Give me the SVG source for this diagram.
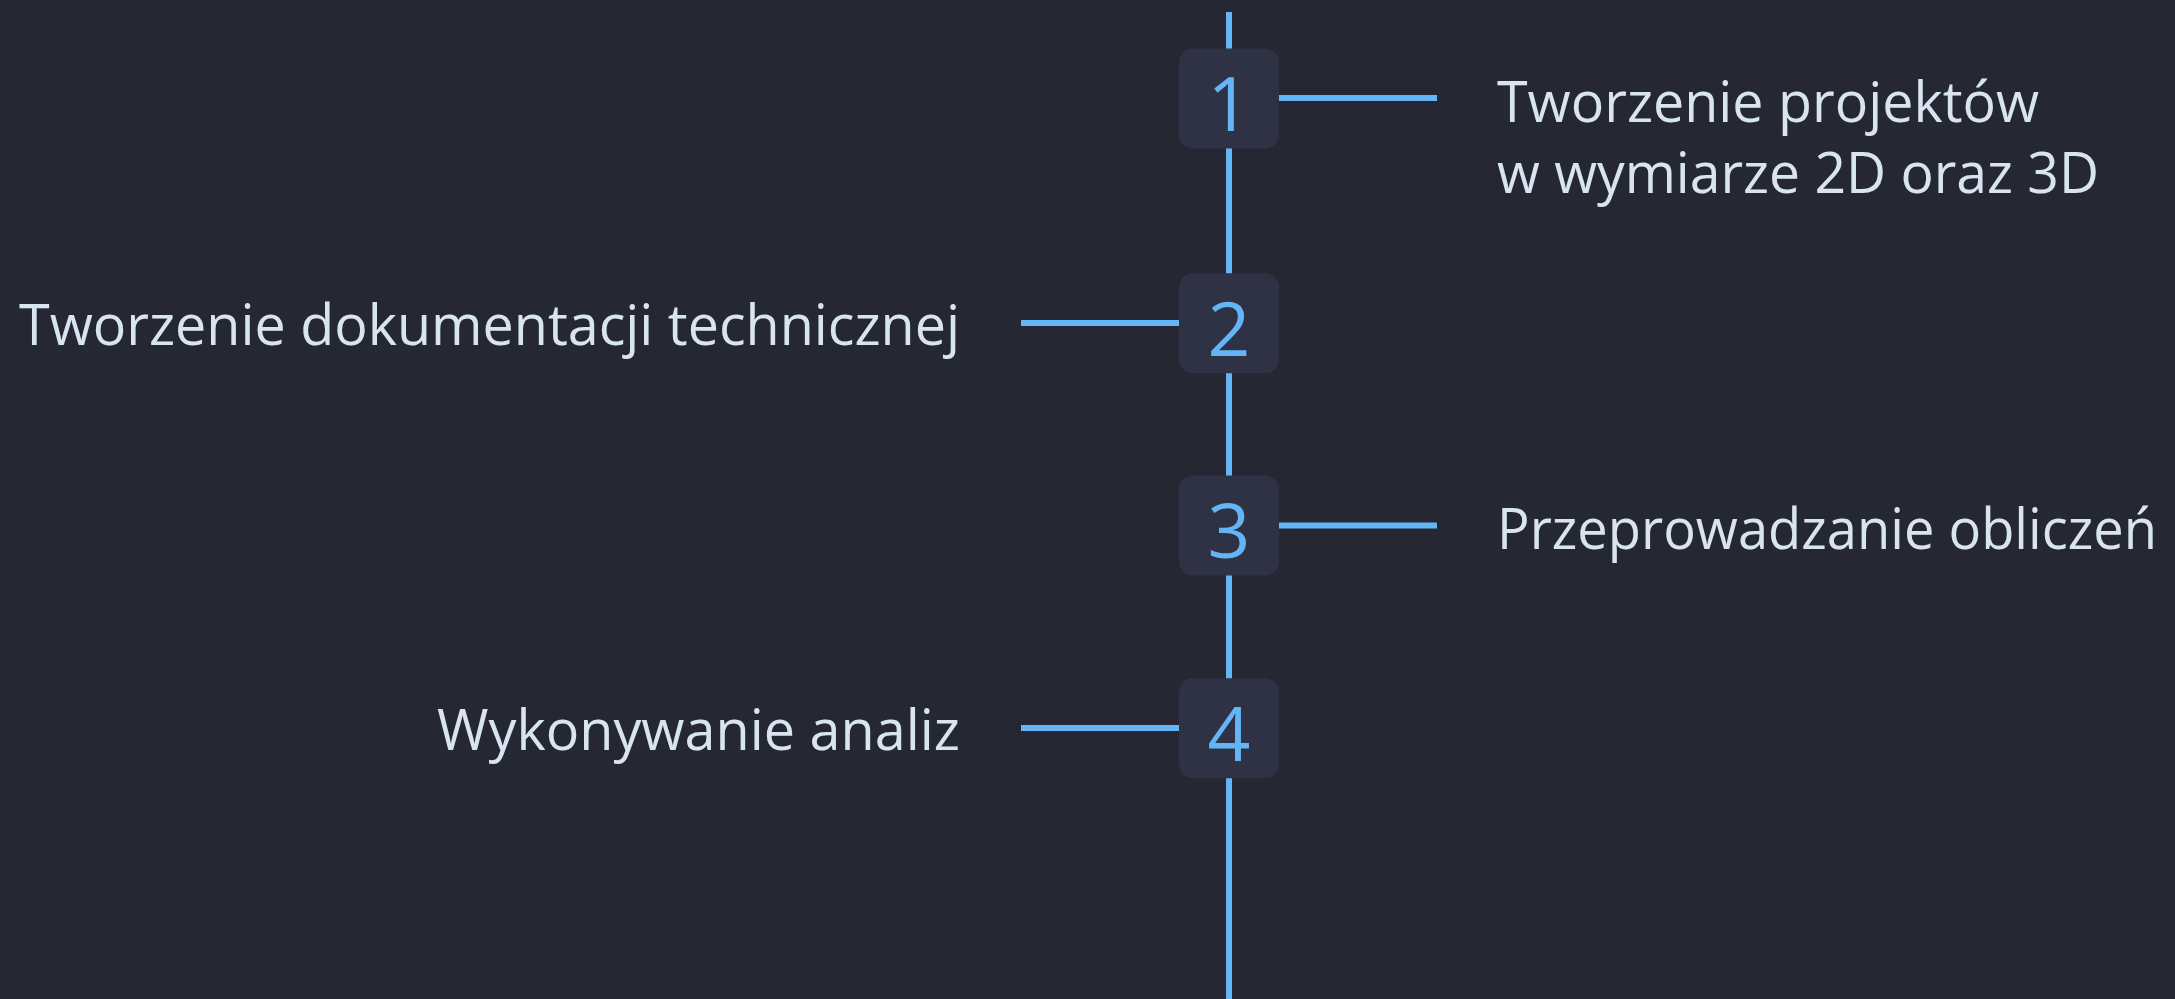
<svg xmlns="http://www.w3.org/2000/svg" width="2175" height="999" viewBox="0 0 2175 999">
<style>
.bg{fill:#252733}
.conn{stroke:#64b5f6;stroke-width:6;fill:none}
.box{fill:#2f3244}
.num{fill:#64b5f6;font-family:"Open Sans","Noto Sans",sans-serif;font-size:75px;text-anchor:middle}
.lbl{fill:#d8e4ef;font-family:"Open Sans","Noto Sans",sans-serif;font-size:57px}
</style>
<rect class="bg" x="0" y="0" width="2175" height="999"/>
<g id="connectors">
<line class="conn" x1="1229" y1="12" x2="1229" y2="999"/>
<line class="conn" x1="1279" y1="98" x2="1437" y2="98"/>
<line class="conn" x1="1021" y1="323" x2="1179" y2="323"/>
<line class="conn" x1="1279" y1="525.5" x2="1437" y2="525.5"/>
<line class="conn" x1="1021" y1="728" x2="1179" y2="728"/>
</g>
<g id="node1">
<rect class="box" x="1179" y="48.5" width="100" height="100" rx="14"/>
<text class="num" x="1229" y="130.7">1</text>
</g>
<g id="node2">
<rect class="box" x="1179" y="273.3" width="100" height="100" rx="14"/>
<text class="num" x="1229" y="356">2</text>
</g>
<g id="node3">
<rect class="box" x="1179" y="475.5" width="100" height="100" rx="14"/>
<text class="num" x="1229" y="558">3</text>
</g>
<g id="node4">
<rect class="box" x="1179" y="678.3" width="100" height="100" rx="14"/>
<text class="num" x="1229" y="761">4</text>
</g>
<g id="label1">
<text class="lbl" x="1497" y="121.7" textLength="542" lengthAdjust="spacingAndGlyphs">Tworzenie projektów</text>
<text class="lbl" x="1497" y="193.3" textLength="602" lengthAdjust="spacingAndGlyphs">w wymiarze 2D oraz 3D</text>
</g>
<g id="label2">
<text class="lbl" x="19" y="345" textLength="941" lengthAdjust="spacingAndGlyphs">Tworzenie dokumentacji technicznej</text>
</g>
<g id="label3">
<text class="lbl" x="1497" y="549.3" textLength="660" lengthAdjust="spacingAndGlyphs">Przeprowadzanie obliczeń</text>
</g>
<g id="label4">
<text class="lbl" x="437" y="750" textLength="523" lengthAdjust="spacingAndGlyphs">Wykonywanie analiz</text>
</g>
</svg>
